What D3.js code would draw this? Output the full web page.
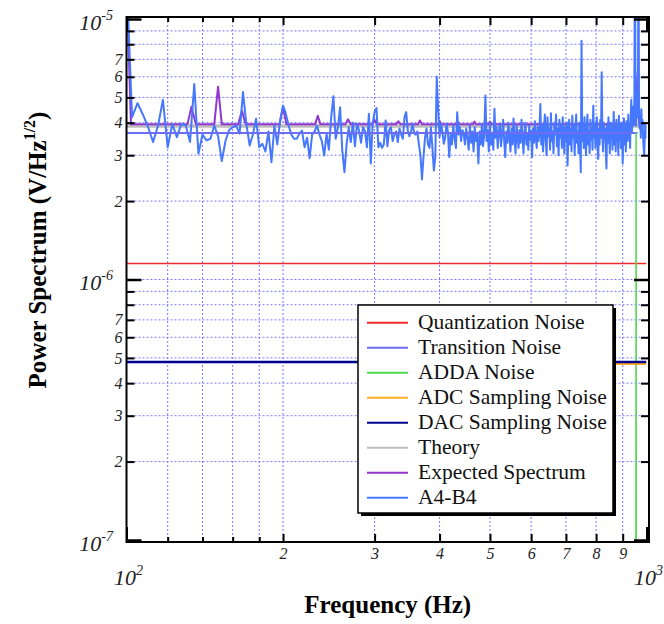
<!DOCTYPE html>
<html>
<head>
<meta charset="utf-8">
<title>Power Spectrum</title>
<script src="https://cdnjs.cloudflare.com/ajax/libs/d3/7.8.5/d3.min.js"></script>
<style>
    body { margin: 0; background: #fff; }
    svg { font-family: "Liberation Serif", "Times New Roman", serif; }
</style>
</head>
<body>
<svg width="664" height="624"></svg>
<script>
// all spectrum values are in units of 1e-6 V/Hz^1/2

// measured A4-B4 spectrum, one value every 2.5 Hz from 100 Hz to 1000 Hz
var a4b4Start = 100, a4b4Step = 2.5;
var a4b4 = [
    15, 4.2, 4.75, 4.3, 3.85, 3.37, 3.9, 4.89, 3.22, 3.95,
    3.52, 3.96, 3.9, 3.37, 5.63, 3.04, 3.6, 3.42, 3.47, 3.9,
    3.55, 2.85, 3.4, 3.75, 3.84, 3.9, 3.63, 5.24, 3.96, 3.27,
    3.6, 4.14, 3.22, 3.32, 3.1, 3.7, 2.82, 3.9, 3.3, 4.1,
    4.65, 4.33, 3.9,
    3.6, 3.47, 3.47, 3.63, 3.73, 3.22, 3.5, 2.92, 3.6, 3.7,
    3.9, 3.6, 3.4, 2.99, 3.63, 3.15, 4.2, 5.05, 3.47, 3.84,
    4.58, 3.13, 2.58, 3.3, 3.84, 3.37, 4.0, 3.25, 3.96, 3.73,
    3.35, 3.84, 3.7, 3.22, 4.33, 2.79, 4.0, 4.4, 4.55, 3.22,
    3.35, 3.2, 3.3, 4.08, 3.25, 3.75, 3.84, 3.4, 3.6, 3.7,
    3.37, 3.8, 3.6, 3.47, 4.2, 4.39, 3.73, 3.55, 3.7, 3.96,
    3.63, 3.6, 3.7, 3.3, 3.0, 2.42, 2.95, 3.5, 3.8, 3.3,
    3.2, 3.84, 3.2, 2.62, 2.95, 6.0, 4.5, 3.52, 3.96, 3.7,
    3.32, 3.5, 3.96,
    3.7, 2.95, 3.6, 3.3, 3.9, 3.5, 3.2, 4.39, 3.6, 3.85,
    3.4, 3.75, 3.65, 3.3, 3.8, 3.5, 3.15, 3.9, 3.35, 3.7,
    3.1, 3.85, 3.4, 3.6, 2.79, 3.7, 3.3, 3.95, 3.25, 3.6,
    5.08, 3.4, 3.75, 3.1, 4.0, 3.3, 3.6, 3.15, 4.52, 3.5,
    3.85, 3.2, 3.7, 3.95, 3.25, 3.6, 4.1, 3.4, 2.95, 3.7,
    3.35, 4.0, 3.5, 3.1, 3.8, 3.3, 4.15, 3.45, 3.05, 3.9,
    3.6, 3.2, 3.75, 3.35, 4.1, 3.5, 3.05, 3.7, 4.0, 3.3,
    3.6, 3.15, 3.9, 3.45, 3.7, 2.95, 3.8, 3.35, 4.05, 3.5,
    3.2, 3.85, 3.4, 3.7, 4.72, 3.3, 3.9, 3.1, 3.75, 4.3,
    3.4, 3.0, 4.2, 3.55, 3.8, 3.15, 4.35, 3.4, 3.7, 3.05,
    4.0, 3.6, 4.3, 3.25, 3.8, 3.0, 4.1, 3.5, 3.9, 3.2,
    4.2, 3.6, 3.05, 3.85, 3.4, 4.0, 2.74, 3.6, 4.1, 3.3,
    3.8, 3.1, 4.25, 3.5, 3.9, 3.0, 3.75, 4.3, 3.35, 3.7,
    3.05, 4.0, 3.5, 2.58, 8.25, 3.4, 3.9, 3.2, 4.2, 3.55,
    3.0, 3.85, 4.3, 3.3, 3.7, 3.05, 4.1, 3.45, 3.8, 3.15,
    4.65, 3.5, 3.95, 3.2, 3.75, 4.2, 3.4, 2.9, 3.8, 3.3,
    4.1, 3.5, 6.24, 3.6, 3.1, 4.0, 3.45, 3.8, 3.2, 2.67,
    3.9, 3.35, 4.2, 3.6, 3.05, 4.0, 3.5, 3.85, 3.15, 3.7,
    4.4, 3.3, 3.9, 3.1, 4.1, 3.5, 3.8, 3.0, 4.25, 3.45,
    3.9, 3.2, 4.0, 3.55, 2.79, 3.7, 4.15, 3.3, 3.85, 3.1,
    4.05, 3.6, 3.4, 4.3, 3.5, 3.9, 3.2, 4.2,
    4.9, 3.7, 4.3, 4.6, 3.9, 4.8, 20, 5.0, 3.9, 4.4,
    5.2, 4.2, 20, 4.6, 3.8, 4.2, 3.5, 4.5, 3.8, 4.1,
    3.5, 3.2, 3.0, 3.6, 4.0, 3.5, 3.9
];

// expected spectrum: flat floor with peaks at the harmonics
var expectedFreq = [100, 102, 131, 133.3, 136, 147.5, 150, 152.5, 164, 166.7, 169.5,
    197, 200, 203, 230.5, 233.3, 236, 263.5, 266.7, 270, 297, 300, 303,
    330, 333.3, 336.5, 363.5, 366.7, 370, 397, 400, 403, 430, 433.3, 436.5,
    463.5, 466.7, 470, 497, 500, 503, 948, 962, 968, 1000];
var expectedVal = [14, 3.94, 3.94, 4.6, 3.94, 3.94, 5.5, 3.94, 3.94, 4.45, 3.94,
    3.94, 4.6, 3.94, 3.94, 4.25, 3.94, 3.94, 4.12, 3.94, 3.94, 4.1, 3.94,
    3.94, 4.05, 3.94, 3.94, 4.08, 3.94, 3.94, 4.06, 3.94, 3.94, 4.04, 3.94,
    3.94, 4.04, 3.94, 3.94, 4.04, 3.94, 3.94, 6.3, 3.94, 3.94];

var theoryFreq = [100, 1000], theoryVal = [3.88, 3.88];
var quantFreq = [100, 1000], quantVal = [1.152, 1.152];
var transFreq = [100, 961], transVal = [3.65, 3.65];
var addaFreq = [954, 955, 956], addaVal = [0.001, 3.65, 0.001];
var adcFreq = [500, 1000], adcVal = [0.474, 0.474];
var dacFreq = [100, 1000], dacVal = [0.482, 0.482];

// ticks
var xDecades = [100, 1000];
var xLabeled = [200, 300, 400, 500, 600, 700, 800, 900];
var xMinor = [120, 140, 160, 180];
var yDecades = [0.1, 1, 10];
var yDecadeExp = ["-7", "-6", "-5"];
var yLabeled = [0.2, 0.3, 0.4, 0.5, 0.6, 0.7, 2, 3, 4, 5, 6, 7];
var yMinor = [0.8, 0.9, 8, 9];

var legendNames = ["Quantization Noise", "Transition Noise", "ADDA Noise", "ADC Sampling Noise",
    "DAC Sampling Noise", "Theory", "Expected Spectrum", "A4-B4"];
var legendColors = ["#ee2b2b", "#6c6cf4", "#4cd84c", "#ffae2a", "#00008f", "#bdbdbd", "#9236d0", "#4578ff"];

var svg = d3.select("svg");
var plotL = 126.5, plotR = 646.5, plotT = 19, plotB = 540;
var frameR = 649, frameT = 17, frameB = 542;

var x = d3.scaleLog().domain([100, 1000]).range([plotL, plotR]);
var y = d3.scaleLog().domain([0.1, 10]).range([plotB, plotT]);

// dotted grid
var grid = svg.append("g")
    .attr("stroke", "#7b7bff")
    .attr("stroke-width", 1)
    .attr("stroke-dasharray", "2,2");
grid.selectAll(".gx").data(xMinor.concat(xLabeled)).enter().append("line")
    .attr("x1", function(d) { return x(d); }).attr("x2", function(d) { return x(d); })
    .attr("y1", frameT).attr("y2", frameB);
grid.selectAll(".gy").data(yLabeled.concat(yMinor).concat([1])).enter().append("line")
    .attr("y1", function(d) { return y(d); }).attr("y2", function(d) { return y(d); })
    .attr("x1", plotL).attr("x2", frameR);

svg.append("clipPath").attr("id", "plotclip").append("rect")
    .attr("x", plotL).attr("y", frameT).attr("width", plotR - plotL).attr("height", frameB - frameT);

var line = d3.line()
    .x(function(d) { return x(d[0]); })
    .y(function(d) { return y(d[1]); });

function pairs(f, v) { return f.map(function(d, i) { return [d, v[i]]; }); }

var plot = svg.append("g").attr("clip-path", "url(#plotclip)").attr("fill", "none");

function addLine(data, color, width) {
    plot.append("path").datum(data)
        .attr("d", line)
        .attr("stroke", color)
        .attr("stroke-width", width)
        .attr("stroke-linejoin", "round");
}

var a4b4Pts = a4b4.map(function(v, i) { return [a4b4Start + i * a4b4Step, v]; });

addLine(pairs(theoryFreq, theoryVal), legendColors[5], 3.5);
addLine(pairs(expectedFreq, expectedVal), legendColors[6], 2);
addLine(a4b4Pts, legendColors[7], 2);
addLine(pairs(quantFreq, quantVal), legendColors[0], 1.5);
addLine(pairs(transFreq, transVal), legendColors[1], 2);
addLine(pairs(addaFreq, addaVal), legendColors[2], 1.5);
addLine(pairs(adcFreq, adcVal), legendColors[3], 2);
addLine(pairs(dacFreq, dacVal), legendColors[4], 2.5);

// frame
svg.append("rect")
    .attr("x", plotL).attr("y", frameT)
    .attr("width", frameR - plotL).attr("height", frameB - frameT)
    .attr("fill", "none").attr("stroke", "#000").attr("stroke-width", 2);

function styleAxis(g, width) {
    g.attr("font-family", null).attr("font-size", null);
    g.select(".domain").remove();
    g.selectAll(".tick line").attr("stroke", "#000").attr("stroke-width", width);
    g.selectAll(".tick text")
        .attr("font-style", "italic")
        .attr("font-size", 16)
        .attr("fill", "#222");
}

// bottom and top axes
[[frameB, d3.axisBottom], [frameT, d3.axisTop]].forEach(function(s) {
    var lab = s[1] === d3.axisBottom;
    svg.append("g").attr("transform", "translate(0," + s[0] + ")")
        .call(s[1](x).tickValues(xLabeled).tickSize(-8).tickPadding(6)
            .tickFormat(function(d) { return lab ? d / 100 : ""; }))
        .call(styleAxis, 2);
    svg.append("g").attr("transform", "translate(0," + s[0] + ")")
        .call(s[1](x).tickValues(xMinor).tickSize(-5).tickFormat(""))
        .call(styleAxis, 2);
    svg.append("g").attr("transform", "translate(0," + s[0] + ")")
        .call(s[1](x).tickValues(xDecades).tickSize(-15).tickFormat(""))
        .call(styleAxis, 2);
});

// left and right axes
[[plotL, d3.axisLeft], [frameR, d3.axisRight]].forEach(function(s) {
    var lab = s[1] === d3.axisLeft;
    svg.append("g").attr("transform", "translate(" + s[0] + ",0)")
        .call(s[1](y).tickValues(yLabeled).tickSize(-8).tickPadding(4)
            .tickFormat(function(d) { return lab ? Math.round(d < 1 ? d * 10 : d) : ""; }))
        .call(styleAxis, 2);
    svg.append("g").attr("transform", "translate(" + s[0] + ",0)")
        .call(s[1](y).tickValues(yMinor).tickSize(-8).tickFormat(""))
        .call(styleAxis, 2);
    svg.append("g").attr("transform", "translate(" + s[0] + ",0)")
        .call(s[1](y).tickValues(yDecades).tickSize(-15).tickFormat(""))
        .call(styleAxis, 2.5);
});

// decade labels
var yDec = svg.selectAll(".ydec").data(yDecades).enter().append("text")
    .attr("x", 113)
    .attr("y", function(d) { return y(d) + 10.5; })
    .attr("text-anchor", "end")
    .attr("font-style", "italic")
    .attr("font-size", 22)
    .attr("fill", "#222");
yDec.append("tspan").text("10");
yDec.append("tspan").attr("dy", -10).attr("font-size", 14)
    .text(function(d, i) { return yDecadeExp[i]; });

var xDec = svg.selectAll(".xdec").data(xDecades).enter().append("text")
    .attr("x", function(d) { return x(d) + 2; })
    .attr("y", 585)
    .attr("text-anchor", "middle")
    .attr("font-style", "italic")
    .attr("font-size", 22)
    .attr("fill", "#222");
xDec.append("tspan").text("10");
xDec.append("tspan").attr("dy", -10).attr("font-size", 14)
    .text(function(d) { return Math.round(Math.log10(d)); });

// axis titles
svg.append("text")
    .attr("x", (plotL + frameR) / 2).attr("y", 613)
    .attr("text-anchor", "middle")
    .attr("font-weight", "bold").attr("font-size", 25)
    .text("Frequency (Hz)");

var yt = svg.append("text")
    .attr("transform", "translate(46,250) rotate(-90)")
    .attr("text-anchor", "middle")
    .attr("font-weight", "bold").attr("font-size", 25);
yt.append("tspan").text("Power Spectrum (V/Hz");
yt.append("tspan").attr("dy", -11).attr("font-size", 16).text("1/2");
yt.append("tspan").attr("dy", 11).text(")");

// legend
var lg = svg.append("g");
lg.append("rect").attr("x", 361).attr("y", 308).attr("width", 255).attr("height", 208).attr("fill", "#000");
lg.append("rect").attr("x", 358).attr("y", 305).attr("width", 255).attr("height", 208)
    .attr("fill", "#fff").attr("stroke", "#000").attr("stroke-width", 1.5);
var rows = lg.selectAll(".row").data(legendNames).enter().append("g")
    .attr("transform", function(d, i) { return "translate(0," + (322.7 + 25 * i) + ")"; });
rows.append("line")
    .attr("x1", 367).attr("x2", 408)
    .attr("stroke", function(d, i) { return legendColors[i]; })
    .attr("stroke-width", 2);
rows.append("text")
    .attr("x", 418).attr("y", 6.5)
    .attr("font-size", 21.5)
    .attr("fill", "#111")
    .text(function(d) { return d; });
</script>
</body>
</html>
